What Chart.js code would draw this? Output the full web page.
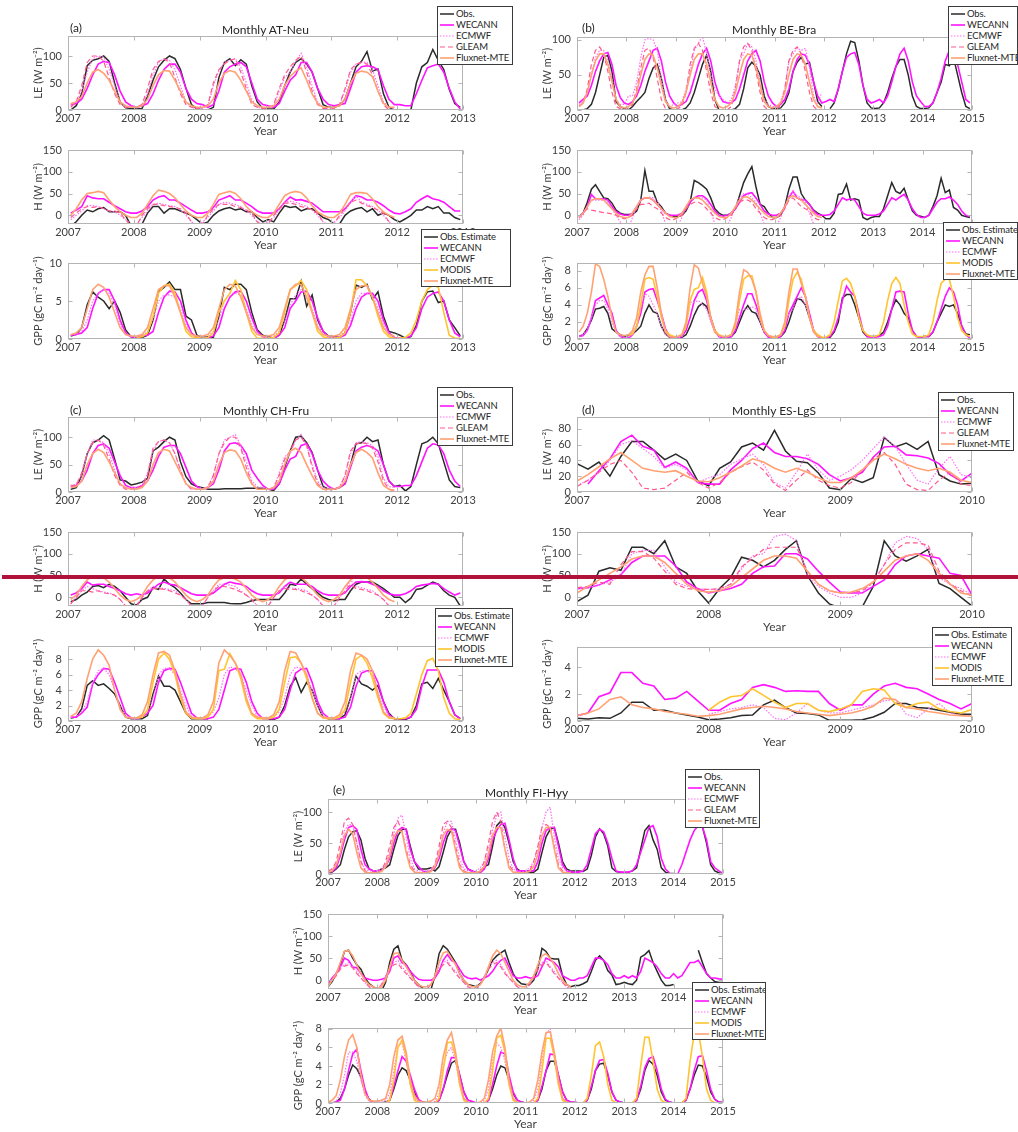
<!DOCTYPE html>
<html>
<head>
<meta charset="utf-8">
<script src="https://cdn.jsdelivr.net/npm/chart.js@4.4.0/dist/chart.umd.min.js"></script>
<style>
  body { margin:0; background:#fff; width:1018px; height:1132px; position:relative; overflow:hidden;
         font-family: Lato, "Liberation Sans", sans-serif; color:#262626; }
  canvas { position:absolute; }
  .ttl { position:absolute; font-size:12px; white-space:nowrap; transform:translateY(-50%); color:#262626; }
  .leg { position:absolute; background:#fff; border:1px solid #3a3a3a; box-sizing:border-box;
         font-size:9.5px; letter-spacing:-0.15px; padding:2px 0 0 2px; overflow:hidden; color:#262626; }
  .leg div { height:10.9px; line-height:10.9px; display:flex; align-items:center; white-space:nowrap; }
  .leg svg { margin-right:2px; flex:none; }
  #redline { position:absolute; left:2px; top:575px; width:1016px; height:4px; background:#b0123a; }
</style>
</head>
<body>
<script>
/* ===== tick labels ===== */
const xTicks0715 = [2007,2008,2009,2010,2011,2012,2013,2014,2015];
const xTicks0713 = [2007,2008,2009,2010,2011,2012,2013];
const xTicks0710 = [2007,2008,2009,2010];
const yTicksLE   = [0,50,100];
const yTicksLEd  = [0,20,40,60,80];
const yTicksH    = [0,50,100,150];
const yTicksGPPa = [0,5,10];
const yTicksGPP  = [0,2,4,6,8];
const yTicksGPPd = [0,2,4];

/* ===== (a) AT-Neu, monthly 2007-2012 ===== */
const aLE_obs = [
  0,8,30,82,92,95,100,90,50,15,4,3,
  2,3,25,55,80,92,100,95,75,40,10,2,
  0,0,5,60,88,95,82,93,85,45,15,3,
  2,2,15,45,70,88,95,85,70,40,10,5,
  5,8,20,50,80,90,108,72,76,30,5,0,
  null,null,0,50,80,88,112,92,75,38,12,5];
const aLE_wecann = [
  10,12,20,40,65,85,90,88,65,35,15,8,
  5,8,12,30,55,75,85,85,70,40,20,12,
  10,5,10,35,70,80,85,88,80,50,20,10,
  8,5,12,35,55,65,88,88,70,40,20,10,
  8,10,12,40,70,80,82,80,75,45,20,10,
  10,8,8,30,55,78,82,85,70,40,15,2];
const aLE_ecmwf = [
  8,15,35,70,95,100,98,75,45,15,5,5,
  5,10,30,65,88,95,92,75,45,15,5,3,
  3,8,45,72,88,92,95,80,50,20,5,3,
  5,8,35,60,70,90,105,80,45,15,5,3,
  5,10,35,70,85,88,88,75,45,15,5,0];
const aLE_gleam = [
  5,15,45,88,100,100,90,60,30,10,5,5,
  5,10,40,75,90,95,88,60,30,10,5,3,
  3,10,50,75,85,92,95,70,40,10,5,3,
  3,10,40,65,80,92,100,70,35,10,3,3,
  3,10,40,75,85,88,85,65,35,10,0,0];
const aLE_mte = [
  12,15,25,50,70,75,68,55,35,15,8,5,
  5,8,20,45,65,73,72,55,35,15,8,5,
  5,8,20,50,68,73,70,55,35,15,8,5,
  5,8,20,45,62,72,78,55,30,12,5,5,
  5,8,20,50,68,72,70,62,35,12,5,5];

const aH_obs = [
  -25,-15,0,12,8,15,18,8,8,8,0,-25,
  -25,-20,5,20,20,5,15,15,10,5,0,-10,
  -20,-15,0,10,15,18,12,15,8,8,-5,-15,
  -10,-15,5,22,18,20,10,15,15,5,-5,-10,
  -20,-20,0,10,15,18,8,15,0,5,0,-10,
  -15,-8,0,12,12,20,15,20,5,5,-5,-10];
const aH_wecann = [
  5,12,20,45,40,38,38,30,22,15,8,5,
  5,10,20,35,42,45,35,35,28,20,12,5,
  5,8,18,35,40,45,35,35,28,20,10,5,
  5,5,15,30,42,35,36,32,28,18,8,8,
  8,8,15,30,45,42,35,35,30,22,12,5,
  3,8,15,30,38,45,38,35,30,20,10,10];
const aH_ecmwf = [
  -10,0,10,22,22,20,15,10,8,0,-10,-20,
  -20,-5,10,25,28,25,22,20,12,0,-15,-25,
  -15,-5,10,25,30,28,25,20,10,0,-15,-20,
  -15,-5,12,30,32,30,25,20,12,0,-15,-25,
  -15,-5,10,30,45,30,25,20,12,0,-15,-25];
const aH_gleam = [
  -5,5,15,20,18,20,15,10,10,5,-10,-25,
  -25,0,15,25,25,22,20,18,15,5,-15,-25,
  -20,0,15,25,25,25,20,18,12,5,-15,-25,
  -20,0,15,28,28,25,20,18,12,5,-15,-25,
  -20,0,15,30,35,28,22,18,12,5,-15,-25];
const aH_mte = [
  0,15,35,50,52,55,52,35,20,8,0,-5,
  -5,5,25,45,58,55,50,40,25,10,0,-5,
  -5,5,25,48,52,55,50,38,20,8,0,-5,
  -5,5,25,45,52,55,52,40,22,8,0,-5,
  -5,5,25,48,52,52,50,38,20,8,0,-5];

const aGPP_obs = [
  0.4,0.6,1.5,4.5,6.2,5.5,5.0,4.0,5.0,3.5,1.2,0.3,
  0.1,0.2,0.5,2.5,6.2,6.8,7.5,6.5,6.5,3.0,2.5,0.5,
  0.2,0.3,0.2,3.0,6.8,6.5,7.2,7.2,6.5,3.5,1.2,0.5,
  0.3,0.1,0.5,2.5,5.3,5.3,7.6,4.3,5.8,2.5,1.0,0.4,
  0.3,0.2,0.8,3.5,7.1,6.8,7.2,5.2,6.2,3.0,1.0,0.8,
  0.5,0.1,0.3,1.8,5.0,6.2,6.3,4.8,5.0,2.5,1.5,0.4];
const aGPP_wecann = [
  0.5,0.6,0.8,1.5,4.0,6.0,6.5,6.5,5.0,2.5,0.8,0.3,
  0.2,0.4,0.5,1.0,3.5,5.5,6.3,6.2,5.0,2.5,0.8,0.2,
  0.1,0.1,0.4,1.5,4.0,5.5,6.2,6.3,5.0,2.8,1.0,0.3,
  0.1,0.1,0.5,1.5,4.0,5.0,6.2,6.3,5.0,2.8,1.0,0.3,
  0.2,0.2,0.5,1.8,4.0,5.5,6.0,6.0,5.0,2.5,0.8,0.2,
  0.1,0.1,0.4,1.5,4.0,5.5,6.0,6.2,5.0,2.5,0.8,0.3];
const aGPP_ecmwf = [
  0.5,0.6,1.0,2.5,5.0,6.0,6.5,6.0,4.5,2.0,0.6,0.3,
  0.3,0.4,1.0,2.5,5.0,5.8,5.8,5.5,4.0,2.0,0.6,0.3,
  0.2,0.3,1.0,2.5,5.0,6.0,6.0,5.8,4.0,2.0,0.6,0.3,
  0.2,0.3,1.0,2.5,4.5,5.8,6.5,5.5,4.0,2.0,0.6,0.3,
  0.2,0.3,1.0,2.5,5.0,6.0,6.0,5.8,4.0,2.0,0.6,0.3];
const aGPP_modis = [
  null,null,null,null,null,null,null,null,null,null,null,null,
  0.2,0.3,0.8,3.0,6.0,7.0,7.2,6.0,3.5,1.0,0.3,0.2,
  0.1,0.2,0.8,3.5,5.0,6.0,7.7,6.5,3.5,1.0,0.1,0.1,
  0.1,0.2,0.8,3.5,6.5,7.0,7.7,6.5,3.5,1.0,0.3,0.1,
  0.1,0.2,0.8,3.5,7.8,7.8,7.0,5.5,3.0,1.0,0.3,0.1,
  0.1,0.2,0.8,2.5,5.0,6.5,7.1,6.8,3.5,0.5,0.1,0.1];
const aGPP_mte = [
  0.6,0.8,1.5,4.0,6.5,7.2,6.8,5.5,3.5,1.5,0.6,0.4,
  0.4,0.6,1.5,4.0,6.5,7.0,7.0,5.5,3.5,1.5,0.6,0.4,
  0.4,0.6,1.5,4.0,6.5,7.2,7.0,5.5,3.5,1.5,0.6,0.4,
  0.4,0.6,1.5,4.0,6.5,7.2,7.2,5.5,3.5,1.5,0.6,0.4,
  0.4,0.6,1.5,4.0,6.5,7.0,7.0,5.5,3.5,1.5,0.6,0.4];

/* ===== (b) BE-Bra, monthly 2007-2014 ===== */
const bLE_obs = [
  0,0,2,8,25,50,75,78,55,12,5,2,
  0,5,12,18,25,45,60,65,45,15,2,0,
  0,0,3,10,25,45,65,78,55,15,0,0,
  0,0,2,8,30,60,68,62,50,20,5,2,
  2,3,10,25,55,68,75,65,68,40,12,5,
  null,2,10,30,55,80,98,96,70,35,10,3,
  2,3,10,25,45,62,72,72,50,20,5,2,
  2,3,10,25,40,65,63,75,50,25,5,2];
const bLE_wecann = [
  10,15,20,35,55,70,80,82,65,35,18,10,
  8,12,20,35,55,70,85,88,70,40,20,10,
  5,8,12,25,45,65,80,88,70,40,22,12,
  10,10,15,30,50,70,80,85,70,40,20,10,
  5,8,15,30,55,72,80,78,65,40,20,10,
  12,15,12,30,55,75,80,82,65,35,15,10,
  12,15,10,20,40,62,80,88,70,40,20,12,
  5,5,10,25,45,70,85,88,65,40,15,10];
const bLE_ecmwf = [
  8,12,25,50,75,85,85,70,45,15,8,8,
  20,20,40,75,100,102,100,85,45,15,5,8,
  10,12,30,55,85,95,105,80,50,30,20,15,
  10,15,35,70,80,95,90,70,40,15,8,5,
  5,12,30,70,80,88,85,88,60,20,10,25];
const bLE_gleam = [
  5,10,30,65,85,90,80,55,25,5,2,0,
  3,8,30,60,85,88,75,45,15,2,0,0,
  2,5,25,65,88,95,85,55,25,5,0,0,
  0,5,30,70,90,95,85,55,25,5,0,0,
  0,8,30,70,85,90,80,55,25,5,0,0];
const bLE_mte = [
  5,10,25,50,70,80,80,65,40,15,5,3,
  5,10,25,50,72,80,78,60,35,12,5,3,
  5,10,25,50,72,80,80,65,40,15,5,3,
  5,10,25,50,72,80,78,60,35,12,5,3,
  5,10,25,50,72,80,78,65,40,15,5,3];

const bH_obs = [
  -3,5,30,60,70,55,40,38,28,12,5,2,
  2,2,10,35,103,55,55,30,20,5,0,-2,
  -3,0,10,30,80,75,68,60,40,15,5,0,
  0,5,15,45,75,95,112,65,25,20,5,-5,
  -5,0,20,60,88,88,50,35,25,12,5,0,
  -8,-8,5,48,50,72,35,38,35,-5,-10,-5,
  -3,-3,15,45,75,55,50,62,35,10,0,-2,
  -5,0,20,45,85,52,58,18,12,0,-3,-5];
const bH_wecann = [
  -5,5,20,48,38,38,38,35,20,8,3,0,
  0,5,20,35,40,40,35,25,15,5,0,0,
  0,5,15,30,40,45,45,38,25,10,0,-2,
  0,5,15,30,45,50,52,40,25,10,3,0,
  0,5,18,40,55,40,35,35,25,10,2,0,
  0,2,10,25,40,35,38,35,20,5,0,0,
  0,3,10,25,40,35,42,48,35,15,2,-5,
  -5,0,15,30,38,38,42,35,25,10,0,-2];
const bH_ecmwf = [
  -10,0,20,35,35,35,35,30,15,0,-15,-25,
  -30,-5,20,35,40,42,40,35,10,-20,-30,-30,
  -25,-5,20,35,40,40,40,35,10,-20,-30,-30,
  -25,-5,20,40,50,50,40,30,5,-20,-30,-30,
  -25,-5,20,45,55,45,40,30,5,-20,-30,-30];
const bH_gleam = [
  -5,5,15,12,10,8,6,5,3,0,-5,-8,
  -5,0,15,25,25,28,20,15,5,-5,-10,-10,
  -5,0,15,25,30,30,25,15,5,-5,-10,-10,
  -5,0,15,30,35,35,30,15,5,-5,-10,-10,
  -5,0,15,35,40,30,20,15,10,-5,-10,-10];
const bH_mte = [
  -5,5,20,35,38,38,35,25,15,5,-3,-5,
  -5,5,20,35,40,40,35,25,15,5,-3,-5,
  -5,5,20,35,40,40,35,25,15,5,-3,-5,
  -5,5,20,35,42,42,35,25,15,5,-3,-5,
  -5,5,20,40,45,40,35,25,15,5,-3,-5];

const bGPP_obs = [
  0.3,0.5,1.2,2.2,3.5,3.6,3.8,3.0,1.2,0.8,0.5,0.3,
  0.4,0.6,1.0,1.5,3.0,4.0,3.2,3.0,1.5,0.6,0.2,0.1,
  0.1,0.2,0.5,1.5,2.8,3.8,4.2,3.8,2.5,1.0,0.3,0.2,
  0.2,0.3,0.8,2.0,3.2,3.9,3.2,3.0,2.0,0.8,0.3,0.2,
  0.2,0.3,0.8,2.0,3.5,4.7,4.6,4.0,2.5,1.0,0.3,0.1,
  0.1,0.2,0.8,2.0,4.8,5.2,5.2,4.0,2.5,0.8,0.3,0.3,
  0.3,0.4,0.8,2.0,3.5,4.6,4.0,3.0,2.5,1.0,0.3,0.2,
  0.3,0.3,0.8,2.0,3.0,4.0,3.8,4.0,3.0,1.5,0.6,0.5];
const bGPP_wecann = [
  0.3,0.4,1.0,2.5,4.5,4.8,5.1,4.0,3.0,1.0,0.3,0.1,
  0.1,0.5,1.5,3.0,5.5,5.8,5.9,4.5,3.0,1.2,0.3,0.1,
  0.1,0.3,1.0,2.5,4.5,5.5,5.8,4.5,2.5,1.0,0.3,0.2,
  0.2,0.3,1.0,2.5,4.0,5.3,5.3,4.0,2.5,0.8,0.2,0.1,
  0.1,0.3,1.0,3.0,4.0,5.0,6.0,5.0,3.0,1.0,0.3,0.1,
  0.1,0.3,1.0,2.5,4.5,6.2,5.5,5.0,3.0,1.0,0.3,0.2,
  0.2,0.3,0.5,1.5,3.5,5.5,5.6,5.5,3.0,1.0,0.3,0.2,
  0.3,0.3,0.8,2.0,3.5,5.0,6.0,5.5,4.0,1.5,0.5,0.1];
const bGPP_ecmwf = [
  0.3,0.5,1.0,2.5,4.0,4.5,4.5,3.5,2.0,0.8,0.3,0.2,
  0.2,0.5,1.5,3.5,5.3,5.0,4.0,3.0,1.5,0.5,0.2,0.1,
  0.1,0.3,1.5,4.3,4.3,4.5,4.0,3.5,2.0,0.8,0.3,0.2,
  0.2,0.4,1.5,3.5,3.5,3.5,3.8,3.5,2.0,0.8,0.3,0.2,
  0.2,0.4,1.5,3.0,3.5,4.5,5.0,4.0,2.5,0.8,0.3,0.2];
const bGPP_modis = [
  null,null,null,null,null,null,null,null,null,null,null,null,
  0.4,0.6,1.5,4.0,7.0,7.2,7.0,5.0,2.5,1.0,0.5,0.3,
  0.3,0.5,1.5,4.5,5.8,6.0,7.2,5.5,2.5,1.0,0.5,0.3,
  0.3,0.5,1.5,4.5,7.0,7.4,7.4,5.5,2.5,1.0,0.4,0.2,
  0.2,0.5,1.5,4.5,7.0,7.8,7.0,5.0,2.5,1.0,0.5,0.2,
  0.2,0.5,2.0,4.5,6.8,7.1,6.5,5.0,2.5,1.0,0.5,0.3,
  0.3,0.5,2.0,4.5,6.5,7.2,6.5,4.0,2.0,0.6,0.3,0.3,
  0.3,0.5,2.0,4.5,6.5,7.0,7.0,5.0,2.5,1.0,0.5,0.3];
const bGPP_mte = [
  0.8,1.5,3.0,5.5,8.8,8.5,7.0,5.0,2.5,0.8,0.5,0.4,
  0.5,1.0,2.5,5.5,7.5,8.5,8.5,6.0,3.0,0.8,0.3,0.2,
  0.3,0.5,2.0,6.0,8.7,8.3,6.5,5.0,2.5,0.8,0.4,0.3,
  0.3,0.5,2.0,5.5,8.1,7.8,7.0,5.5,3.0,1.0,0.4,0.3,
  0.3,0.5,2.0,5.5,8.2,8.2,6.5,5.0,2.5,0.8,0.3,0.2];

/* ===== (c) CH-Fru, monthly 2007-2012 ===== */
const cLE_obs = [
  5,8,30,70,90,95,103,95,60,22,20,13,
  15,18,25,75,82,92,100,95,55,28,15,10,
  8,5,5,5,6,6,6,6,7,7,7,7,
  5,3,15,45,75,100,102,90,72,40,10,5,
  5,8,15,50,88,90,100,92,95,50,20,10,
  12,2,10,50,88,92,100,88,55,22,10,8];
const cLE_wecann = [
  10,12,20,40,70,85,88,80,55,30,12,8,
  8,12,20,40,65,82,85,85,70,45,20,10,
  5,8,15,40,75,88,90,85,70,40,25,12,
  5,5,15,40,60,65,85,88,70,40,20,10,
  5,8,15,45,75,82,85,82,75,50,20,10,
  10,12,12,30,55,80,88,86,70,40,20,10];
const cLE_ecmwf = [
  10,15,30,70,95,95,90,70,40,15,5,8,
  8,12,35,75,92,95,90,70,40,15,5,5,
  5,10,30,70,95,100,105,85,55,20,10,8,
  5,8,35,65,70,95,105,85,50,20,8,5,
  5,10,30,70,90,92,90,85,65,25,10,8];
const cLE_gleam = [
  12,12,35,70,90,95,85,60,30,12,5,5,
  8,10,30,80,92,95,90,70,40,15,5,5,
  5,8,30,70,90,100,100,80,45,15,5,5,
  5,8,30,60,75,95,100,85,45,15,5,3,
  5,8,30,75,88,90,88,80,55,20,5,2];
const cLE_mte = [
  8,10,20,50,70,78,72,55,35,15,8,5,
  5,8,20,50,72,78,75,55,35,15,8,5,
  5,8,20,50,72,77,75,60,35,15,5,5,
  5,8,20,50,75,80,72,50,30,12,5,5,
  5,8,20,50,72,78,72,62,35,12,5,3];

const cH_obs = [
  -10,-5,5,12,25,27,22,30,25,15,0,-15,
  -18,-5,0,22,18,42,30,22,10,-5,-15,-15,
  -15,-12,-12,-12,-12,-14,-15,-15,-12,-8,-5,-5,
  -5,-5,-5,10,30,28,42,30,20,10,0,-5,
  -8,-5,-5,15,30,35,35,35,28,20,10,0,
  0,-12,-2,18,20,28,35,30,15,5,0,-20];
const cH_wecann = [
  5,10,20,35,28,30,30,25,20,15,8,5,
  8,5,10,20,30,35,30,28,22,15,8,5,
  5,5,10,20,30,35,32,30,25,15,8,5,
  5,5,10,25,35,30,30,30,25,15,8,5,
  5,5,10,25,35,36,35,30,25,15,8,5,
  5,8,15,25,28,30,32,30,20,12,5,10];
const cH_ecmwf = [
  -15,0,15,25,20,15,12,10,5,-5,-20,-30,
  -20,0,15,25,22,20,18,15,5,-5,-20,-30,
  -20,0,15,30,30,28,25,15,5,-5,-20,-30,
  -20,0,15,25,22,20,18,15,5,-5,-20,-30,
  -20,0,15,40,25,22,18,15,5,-5,-20,-30];
const cH_gleam = [
  -15,0,15,15,12,15,10,8,5,-5,-20,-30,
  -20,0,15,20,20,18,15,10,5,-5,-20,-30,
  -20,0,15,25,25,22,18,12,5,-5,-20,-30,
  -20,0,15,20,18,18,15,10,5,-5,-20,-30,
  -20,0,15,30,20,18,15,10,5,-5,-20,-30];
const cH_mte = [
  -5,5,25,40,48,48,45,35,20,5,-5,-10,
  -5,5,25,40,48,48,45,35,20,5,-5,-10,
  -5,5,25,40,45,45,42,35,20,5,-5,-10,
  -5,5,25,40,48,48,45,35,20,5,-5,-10,
  -5,5,25,40,48,48,45,35,20,5,-5,-10];

const cGPP_obs = [
  0.4,0.5,1.6,4.6,5.2,4.6,4.8,4.2,3.5,2.0,0.5,0.3,
  0.3,0.3,0.7,3.5,5.8,4.5,4.5,4.0,2.5,1.0,0.3,0.3,
  0.3,0.3,null,null,null,null,null,null,null,null,null,null,
  0.2,0.2,0.5,2.0,4.5,5.6,3.7,5.0,4.0,2.0,0.5,0.3,
  0.3,0.3,0.8,3.0,5.8,4.8,4.5,4.0,4.6,2.5,1.0,0.3,
  0.2,0.2,0.5,2.0,4.8,5.0,4.2,5.5,4.0,2.5,0.8,0.3];
const cGPP_wecann = [
  0.5,0.5,1.0,1.8,4.8,6.0,6.8,6.7,5.0,3.0,1.0,0.4,
  0.3,0.5,1.0,2.0,5.0,6.5,6.8,6.7,5.0,3.0,1.0,0.4,
  0.3,0.3,0.5,1.5,4.0,6.5,6.8,6.7,5.0,2.5,1.0,0.3,
  0.3,0.3,0.5,1.5,4.0,6.2,6.7,6.8,5.0,2.5,1.0,0.4,
  0.3,0.3,0.5,1.8,4.5,6.2,6.5,6.5,5.0,2.5,0.8,0.3,
  0.3,0.3,0.5,1.5,4.5,6.6,6.6,6.6,5.0,2.5,0.8,0.3];
const cGPP_ecmwf = [
  0.5,0.6,1.2,2.5,5.0,6.5,6.8,6.0,4.0,2.0,0.6,0.3,
  0.3,0.5,1.2,3.0,6.0,6.8,6.8,6.0,4.0,2.0,0.6,0.3,
  0.3,0.5,1.2,3.0,6.0,7.0,6.8,6.0,4.0,2.0,0.6,0.3,
  0.3,0.5,1.2,3.0,6.0,7.0,6.8,6.0,4.0,2.0,0.6,0.3,
  0.3,0.5,1.2,3.0,6.0,6.5,6.5,6.0,4.0,2.0,0.6,0.3];
const cGPP_modis = [
  null,null,null,null,null,null,null,null,null,null,null,null,
  0.4,0.5,1.5,5.0,8.0,8.8,8.0,6.0,3.0,1.0,0.4,0.3,
  0.3,0.5,1.5,6.5,6.7,8.7,7.5,5.5,2.5,0.8,0.3,0.3,
  0.3,0.5,1.5,5.0,8.2,8.3,7.5,5.5,3.0,1.0,0.4,0.3,
  0.3,0.5,1.5,5.0,8.0,8.5,7.5,5.5,3.0,1.0,0.4,0.3,
  0.3,0.4,1.0,3.5,6.0,7.8,8.1,6.5,3.0,1.0,0.3,0.2];
const cGPP_mte = [
  0.6,1.0,2.5,5.5,8.0,9.2,8.5,7.2,4.0,1.5,0.5,0.4,
  0.4,0.8,2.5,6.0,8.8,9.0,8.5,6.5,3.5,1.2,0.5,0.4,
  0.4,0.8,2.5,7.5,9.2,8.5,7.5,6.0,3.0,1.0,0.5,0.4,
  0.4,0.8,2.5,6.5,9.0,8.8,7.5,6.0,3.0,1.0,0.5,0.4,
  0.4,0.8,2.5,6.5,8.8,8.5,8.0,6.5,3.5,1.2,0.5,0.4];

/* ===== (d) ES-LgS, monthly Jan 2007 - Jan 2010 ===== */
const dLE_obs    = [36,29,38,20,45,64,64,53,41,48,40,14, 8,30,38,57,62,53,78,52,39,37,24,5, 3,17,12,18,69,57,62,54,64,22,14,10, 11];
const dLE_wecann = [null,10,27,42,64,72,58,53,31,38,30,12, 10,10,28,40,55,62,50,45,45,42,35,22, 14,18,25,44,57,58,47,46,43,36,22,14, 24];
const dLE_ecmwf  = [8,15,25,40,60,65,55,45,30,35,28,12, 18,22,35,42,48,35,12,5,25,48,28,15, 20,28,40,55,70,58,35,15,10,30,45,22, 18];
const dLE_gleam  = [7,15,25,35,40,25,5,3,5,15,25,12, 5,12,25,32,38,28,10,2,15,28,15,8, 5,12,28,42,50,35,10,3,2,15,25,10, 8];
const dLE_mte    = [14,22,32,42,50,40,30,27,25,27,20,14, 13,18,25,33,42,38,30,25,30,25,18,12, 12,18,28,40,48,42,35,30,27,30,25,15, 12];

const dH_obs    = [-10,5,60,68,62,115,115,100,130,70,55,15, -13,20,45,92,85,70,85,110,130,50,10,-15, -25,-35,-22,25,130,95,83,95,110,32,20,0, -20];
const dH_wecann = [20,22,28,40,52,80,95,95,95,72,35,20, 10,15,20,30,55,70,72,100,100,88,60,35, 12,10,10,25,40,75,95,100,95,90,55,50, 5];
const dH_ecmwf  = [20,22,28,35,50,100,108,108,70,35,25,20, 18,18,30,65,95,100,140,145,130,50,25,10, 0,0,10,35,75,125,140,135,110,45,30,20, 5];
const dH_gleam  = [22,25,35,30,75,105,105,90,60,30,20,18, 18,20,30,70,90,110,115,115,115,60,30,15, 10,10,15,35,75,110,125,125,120,60,30,15, 3];
const dH_mte    = [10,25,40,55,70,88,95,95,80,55,30,15, 12,15,25,45,65,85,95,95,90,60,30,15, 10,12,20,35,60,85,95,100,85,55,30,10, 5];

const dGPP_obs    = [0.2,0.15,0.25,0.2,0.6,1.4,1.4,0.8,0.8,0.6,0.45,0.3, 0.1,0.15,0.25,0.4,0.45,1.2,1.55,1.0,0.6,0.55,0.45,0.05, 0.05,0.05,0.1,0.3,0.65,1.3,1.3,1.0,0.95,0.8,0.65,0.5, 0.5];
const dGPP_wecann = [0.4,0.6,1.8,2.1,3.6,3.6,2.8,2.6,1.6,1.7,2.2,1.5, 0.8,0.8,1.3,1.6,2.5,2.7,2.5,2.2,2.25,2.2,2.2,1.3, 0.8,1.2,1.2,2.0,2.6,2.8,2.5,2.4,2.0,1.6,1.3,0.9, 1.3];
const dGPP_ecmwf  = [null,null,null,null,null,null,null,null,null,null,null,null, 0.5,0.7,0.9,1.0,1.2,1.0,0.2,0.1,0.6,1.3,0.8,0.6, 0.6,0.8,1.0,1.2,1.5,1.6,0.5,0.25,0.9,1.3,0.6,0.4, 0.4];
const dGPP_modis  = [null,null,null,null,null,null,null,null,null,null,null,null, 0.8,1.4,1.8,1.9,2.4,1.9,1.4,1.0,1.3,1.3,0.8,0.7, 0.9,1.2,2.2,2.4,2.3,1.3,1.0,1.3,1.4,0.9,0.7,0.6, 0.85];
const dGPP_mte    = [0.4,0.6,0.9,1.6,1.8,1.2,1.0,0.9,0.7,0.6,0.5,0.35, 0.4,0.5,0.7,0.9,1.0,1.1,1.0,0.9,0.7,0.6,0.5,0.4, 0.5,0.6,0.8,1.1,1.7,1.6,1.0,0.9,0.7,0.6,0.45,0.4, 0.35];

/* ===== (e) FI-Hyy, monthly Jan 2007 - Jan 2015 ===== */
const eLE_obs = [
  2,3,8,15,40,60,68,70,55,25,8,5,
  5,8,10,15,40,62,72,72,45,20,8,8,
  8,10,5,12,35,60,72,72,50,20,8,5,
  2,3,12,15,45,78,85,75,50,20,8,4,
  3,3,3,8,35,60,72,75,50,20,8,5,
  5,5,4,8,30,60,73,65,45,10,4,3,
  2,3,5,10,40,70,78,55,40,10,3,1,
  1,null,null,null,null,null,null,76,50,15,5,2, 0];
const eLE_wecann = [
  3,4,10,30,55,75,78,72,40,15,8,5,
  5,5,12,25,50,70,75,72,40,20,12,5,
  3,5,10,25,50,68,73,70,45,20,8,5,
  2,2,8,25,55,70,80,82,55,25,5,5,
  5,5,5,20,50,70,75,75,45,15,5,3,
  3,3,5,15,40,65,72,68,50,25,5,3,
  3,3,5,15,35,55,75,78,60,25,8,2,
  null,0,15,35,55,70,78,76,55,20,10,5, 1];
const eLE_ecmwf = [
  5,8,15,35,70,80,78,50,20,8,5,5,
  5,8,15,35,65,90,95,60,25,8,5,5,
  5,8,15,35,65,85,85,55,25,8,5,3,
  5,10,20,40,70,95,100,60,25,8,5,3,
  5,10,20,40,75,100,108,60,25,10,5,5];
const eLE_gleam = [
  5,8,20,50,85,90,80,50,20,5,2,2,
  3,5,20,45,75,85,70,40,15,5,2,2,
  3,5,15,45,80,85,75,45,15,5,2,2,
  2,5,20,50,85,100,85,40,15,5,2,2,
  2,5,20,45,75,80,75,45,15,5,2,2];
const eLE_mte = [
  3,5,15,35,62,72,65,35,10,3,2,2,
  2,4,12,30,60,70,68,35,10,3,2,2,
  2,4,12,32,62,72,70,38,10,3,2,2,
  2,4,12,32,62,75,75,40,10,3,2,2,
  2,4,12,32,62,75,75,40,10,3,2,2];

const eH_obs = [
  -15,-3,15,35,65,68,50,35,25,5,-8,-15,
  -20,-25,-5,40,70,78,45,35,20,0,-10,-18,
  -20,-22,10,60,78,70,55,40,15,0,-10,-12,
  -15,-8,5,25,45,55,62,68,40,15,0,-8,
  -10,-10,0,25,72,65,50,48,48,10,-10,-15,
  -12,-12,-8,-3,20,45,55,45,22,12,-10,-8,
  -5,-8,-10,0,52,58,67,40,20,0,-12,-12,
  -10,null,null,null,null,null,68,40,15,5,-3,-5, -5];
const eH_wecann = [
  -10,5,15,30,50,45,30,28,15,5,2,0,
  0,2,5,20,50,55,40,35,20,10,2,0,
  0,0,5,20,45,58,45,40,25,10,5,3,
  5,0,5,10,20,35,45,50,30,10,5,5,
  8,5,5,10,30,50,45,40,30,10,5,0,
  0,5,5,10,30,50,50,45,35,15,5,5,
  10,5,10,5,20,50,45,40,30,15,5,5,
  15,5,10,25,40,40,45,30,15,5,5,3, 2];
const eH_ecmwf = [
  -10,0,15,30,35,40,30,20,5,-5,-15,-20,
  -20,-10,10,30,40,45,30,20,5,-5,-15,-20,
  -20,-10,10,30,40,45,30,20,5,-5,-15,-20,
  -20,-10,10,30,40,45,35,20,5,-5,-15,-20,
  -20,-10,10,30,40,45,30,20,5,-5,-15,-25];
const eH_gleam = [
  -10,0,10,25,32,35,28,15,5,-5,-15,-20,
  -20,-10,5,25,35,38,25,15,5,-5,-15,-20,
  -20,-10,5,25,35,40,28,15,5,-5,-15,-20,
  -20,-10,5,25,35,40,30,15,5,-5,-15,-20,
  -20,-10,5,25,35,40,28,15,5,-5,-15,-20];
const eH_mte = [
  -15,0,15,40,65,68,55,35,15,0,-10,-15,
  -20,-15,0,30,60,62,45,30,15,0,-10,-15,
  -15,-10,10,40,62,65,50,35,15,0,-10,-15,
  -15,-10,5,30,55,68,60,40,20,0,-10,-15,
  -15,-5,10,35,55,60,50,35,15,0,-10,-15];

const eGPP_obs = [
  0,0,0.1,0.5,1.5,3.0,4.1,3.7,2.8,1.2,0.4,0.1,
  0,0,0.1,0.3,1.5,3.0,3.8,3.5,2.5,1.2,0.3,0.1,
  0,0,0,0.3,1.5,3.0,4.3,4.6,3.0,1.2,0.3,0.1,
  0,0,0,0.3,1.5,3.0,4.0,3.8,2.5,1.0,0.3,0.1,
  0,0,0,0.3,1.5,3.5,4.5,4.5,3.0,1.2,0.3,0.1,
  0,0,0,0.3,1.5,3.5,4.2,4.3,3.0,1.2,0.3,0.1,
  0,0,0,0.3,1.5,3.5,4.6,4.2,3.0,1.2,0.3,0.1,
  0,0,0,0.3,1.5,3.0,4.1,4.0,2.8,1.2,0.4,0.1, 0];
const eGPP_wecann = [
  0,0,0.1,0.3,1.5,3.5,5.3,5.8,3.5,1.5,0.3,0,
  0,0,0,0.3,1.8,3.5,5.0,4.5,3.0,1.5,0.4,0.1,
  0,0,0,0.3,1.5,3.5,4.9,4.9,3.0,1.2,0.3,0.2,
  0,0,0,0.3,2.0,4.0,5.5,5.3,3.0,1.2,0.3,0.1,
  0,0,0,0.3,1.8,3.5,5.3,5.2,3.0,1.2,0.3,0.1,
  0.1,0,0,0.3,1.8,3.5,4.6,4.7,3.2,1.2,0.3,0.1,
  0,0,0,0.3,1.8,3.8,4.8,5.0,3.5,1.5,0.4,0.1,
  0,0,0,0.3,1.5,3.5,5.0,5.1,3.5,1.5,0.4,0.1, 0.1];
const eGPP_ecmwf = [
  0,0,0.2,1.0,3.0,5.5,5.5,4.5,2.5,0.8,0.2,0,
  0.2,0.2,0.3,1.0,3.5,6.2,6.5,4.5,2.0,0.5,0.1,0,
  0,0,0.2,1.0,4.0,5.5,6.0,4.5,2.0,0.5,0.2,0,
  0,0,0.3,1.5,4.5,6.5,6.0,4.5,2.0,0.5,0.1,0,
  0,0,0.3,1.5,4.5,7.5,8.0,5.0,2.0,0.5,0.1,0];
const eGPP_modis = [
  null,null,null,null,null,null,null,null,null,null,null,null,
  0,0,0,0.3,2.5,6.0,6.8,5.0,2.0,0.3,0,0,
  0,0,0,0.5,3.5,6.5,6.6,5.0,2.0,0.3,0,0,
  0,0,0,0.5,3.5,7.0,7.3,5.5,2.0,0.3,0,0,
  0,0,0,0.5,3.5,7.0,7.0,5.0,2.0,0.3,0,0,
  0,0,0,0.5,3.0,6.2,6.6,5.0,2.0,0.3,0,0,
  0,0,0,0.5,4.0,7.1,7.1,4.5,1.5,0.3,0,0,
  0,0,0,0.5,4.5,7.5,7.8,5.0,1.5,0.3,0,0, 0];
const eGPP_mte = [
  0.1,0.3,0.8,2.5,5.0,6.8,7.4,6.0,3.0,1.0,0.3,0.2,
  0.2,0.3,0.5,2.0,5.0,6.8,7.2,5.5,2.5,0.8,0.2,0.1,
  0.1,0.2,0.5,2.0,5.0,6.8,7.6,5.5,2.5,0.5,0.1,0,
  0,0.1,0.5,2.5,5.5,7.2,8.1,6.0,2.5,0.5,0.1,0,
  0,0.1,0.5,2.5,5.5,7.6,7.7,5.5,2.5,0.5,0.1,0];

/* ===== styles ===== */
const FONT = "Lato, 'Liberation Sans', sans-serif";
const TXT = "#404040";
const AXC = "#b4b4b4";
const STYLE = {
  obs:    { c:"#2a2a2a", w:1.5, d:[] },
  wecann: { c:"#ff14ff", w:1.6, d:[] },
  ecmwf:  { c:"#ff6ef5", w:1.2, d:[1.5,1.5] },
  gleam:  { c:"#ff5a8c", w:1.2, d:[5,3] },
  mte:    { c:"#ffa173", w:1.6, d:[] },
  modis:  { c:"#ffc42e", w:1.6, d:[] }
};
const LE_TITLE  = "LE (W m\u207B\u00B2)";
const H_TITLE   = "H (W m\u207B\u00B2)";
const GPP_TITLE = "GPP (gC m\u207B\u00B2 day\u207B\u00B9)";

// canvas margins around each plot box
const PADL = 38, PADR = 16, PADT = 8, PADB = 32;

// inward ticks and grey axes box, MATLAB style
Chart.register({
  id: "box",
  afterDraw(chart) {
    const { ctx, chartArea: a, scales: { x, y } } = chart;
    const L = Math.round(a.left) + 0.5, R = Math.round(a.right) - 0.5;
    const T = Math.round(a.top) + 0.5,  B = Math.round(a.bottom) - 0.5;
    ctx.save();
    ctx.strokeStyle = AXC; ctx.lineWidth = 1;
    ctx.strokeRect(L, T, R - L, B - T);
    ctx.beginPath();
    x.ticks.forEach(t => {
      const p = Math.round(x.getPixelForValue(t.value)) + 0.5;
      ctx.moveTo(p, B); ctx.lineTo(p, B - 4);
      ctx.moveTo(p, T); ctx.lineTo(p, T + 4);
    });
    y.ticks.forEach(t => {
      const p = Math.round(y.getPixelForValue(t.value)) + 0.5;
      ctx.moveTo(L, p); ctx.lineTo(L + 4, p);
      ctx.moveTo(R, p); ctx.lineTo(R - 4, p);
    });
    ctx.stroke();
    ctx.restore();
  }
});

function plot(sp) {
  const cv = document.createElement("canvas");
  const W = sp.r - sp.l + PADL + PADR, H = sp.b - sp.t + PADT + PADB;
  cv.width = W; cv.height = H;
  cv.style.left = (sp.l - PADL) + "px";
  cv.style.top  = (sp.t - PADT) + "px";
  cv.style.width = W + "px"; cv.style.height = H + "px";
  document.body.appendChild(cv);

  const datasets = sp.series.map(([key, vals], k) => ({
    label: key,
    data: vals.map((v, i) => ({ x: sp.x0 + (i + sp.off) / 12, y: v })),
    borderColor: STYLE[key].c,
    borderWidth: STYLE[key].w,
    borderDash: STYLE[key].d,
    pointRadius: 0, fill: false, tension: 0, spanGaps: false,
    order: -k   // later series on top, like MATLAB
  }));

  new Chart(cv, {
    type: "line",
    data: { datasets },
    options: {
      responsive: false, animation: false, devicePixelRatio: 1,
      layout: { padding: { left: 0, top: PADT, right: PADR, bottom: 0 } },
      plugins: { legend: { display: false }, tooltip: { enabled: false } },
      scales: {
        x: {
          type: "linear", min: sp.x0, max: sp.x1,
          grid: { display: false, drawTicks: false }, border: { display: false },
          afterBuildTicks: s => { s.ticks = sp.xTicks.map(v => ({ value: v })); },
          afterFit: s => { s.height = PADB; s.paddingLeft = 0; s.paddingRight = 0; },
          ticks: { padding: 2, color: TXT, font: { family: FONT, size: 11 }, maxRotation: 0,
                   autoSkip: false, callback: v => String(v) },
          title: { display: true, text: "Year", color: TXT, font: { family: FONT, size: 12 },
                   padding: { top: 0, bottom: 4 } }
        },
        y: {
          min: sp.yMin, max: sp.yMax,
          grid: { display: false, drawTicks: false }, border: { display: false },
          afterBuildTicks: s => { s.ticks = sp.yTicks.map(v => ({ value: v })); },
          afterFit: s => { s.width = PADL; s.paddingTop = 0; s.paddingBottom = 0; },
          ticks: { padding: 6, color: TXT, font: { family: FONT, size: 11 }, callback: v => String(v) },
          title: { display: true, text: sp.yTitle, color: TXT, font: { family: FONT, size: 11 },
                   padding: { top: 2, bottom: 0 } }
        }
      }
    }
  });
}

function legend(x, y, w, h, rows) {
  const d = document.createElement("div");
  d.className = "leg";
  Object.assign(d.style, { left: x + "px", top: y + "px", width: w + "px", height: h + "px" });
  d.innerHTML = rows.map(([key, label]) => {
    const s = STYLE[key];
    return `<div><svg width="14" height="4"><line x1="0" y1="2" x2="14" y2="2" stroke="${s.c}"
      stroke-width="${s.w}" stroke-dasharray="${s.d.length ? s.d.join(" ") : "none"}"/></svg>${label}</div>`;
  }).join("");
  document.body.appendChild(d);
}

function text(x, y, str) {
  const d = document.createElement("div");
  d.className = "ttl";
  d.style.left = x + "px"; d.style.top = y + "px";
  d.textContent = str;
  document.body.appendChild(d);
}

const LE_ROWS  = [["obs","Obs."],["wecann","WECANN"],["ecmwf","ECMWF"],["gleam","GLEAM"],["mte","Fluxnet-MTE"]];
const GPP_ROWS = [["obs","Obs. Estimate"],["wecann","WECANN"],["ecmwf","ECMWF"],["modis","MODIS"],["mte","Fluxnet-MTE"]];

const subplots = [
  // (a)
  { l:68,  t:36,  r:463, b:110, x0:2007, x1:2013, off:0.5, xTicks:xTicks0713, yMin:0,   yMax:137, yTicks:yTicksLE,   yTitle:LE_TITLE,
    series:[["obs",aLE_obs],["wecann",aLE_wecann],["ecmwf",aLE_ecmwf],["gleam",aLE_gleam],["mte",aLE_mte]] },
  { l:68,  t:150, r:463, b:224, x0:2007, x1:2013, off:0.5, xTicks:xTicks0713, yMin:-20, yMax:150, yTicks:yTicksH,    yTitle:H_TITLE,
    series:[["obs",aH_obs],["wecann",aH_wecann],["ecmwf",aH_ecmwf],["gleam",aH_gleam],["mte",aH_mte]] },
  { l:68,  t:263, r:463, b:339, x0:2007, x1:2013, off:0.5, xTicks:xTicks0713, yMin:0,   yMax:10,  yTicks:yTicksGPPa, yTitle:GPP_TITLE,
    series:[["obs",aGPP_obs],["wecann",aGPP_wecann],["ecmwf",aGPP_ecmwf],["modis",aGPP_modis],["mte",aGPP_mte]] },
  // (b)
  { l:577, t:37,  r:972, b:110, x0:2007, x1:2015, off:0.5, xTicks:xTicks0715, yMin:0,   yMax:104, yTicks:yTicksLE,   yTitle:LE_TITLE,
    series:[["obs",bLE_obs],["wecann",bLE_wecann],["ecmwf",bLE_ecmwf],["gleam",bLE_gleam],["mte",bLE_mte]] },
  { l:577, t:150, r:972, b:224, x0:2007, x1:2015, off:0.5, xTicks:xTicks0715, yMin:-20, yMax:150, yTicks:yTicksH,    yTitle:H_TITLE,
    series:[["obs",bH_obs],["wecann",bH_wecann],["ecmwf",bH_ecmwf],["gleam",bH_gleam],["mte",bH_mte]] },
  { l:577, t:263, r:972, b:339, x0:2007, x1:2015, off:0.5, xTicks:xTicks0715, yMin:0,   yMax:8.9, yTicks:yTicksGPP,  yTitle:GPP_TITLE,
    series:[["obs",bGPP_obs],["wecann",bGPP_wecann],["ecmwf",bGPP_ecmwf],["modis",bGPP_modis],["mte",bGPP_mte]] },
  // (c)
  { l:68,  t:417, r:463, b:492, x0:2007, x1:2013, off:0.5, xTicks:xTicks0713, yMin:0,   yMax:137, yTicks:yTicksLE,   yTitle:LE_TITLE,
    series:[["obs",cLE_obs],["wecann",cLE_wecann],["ecmwf",cLE_ecmwf],["gleam",cLE_gleam],["mte",cLE_mte]] },
  { l:68,  t:532, r:463, b:606, x0:2007, x1:2013, off:0.5, xTicks:xTicks0713, yMin:-20, yMax:150, yTicks:yTicksH,    yTitle:H_TITLE,
    series:[["obs",cH_obs],["wecann",cH_wecann],["ecmwf",cH_ecmwf],["gleam",cH_gleam],["mte",cH_mte]] },
  { l:68,  t:646, r:463, b:721, x0:2007, x1:2013, off:0.5, xTicks:xTicks0713, yMin:0,   yMax:9.7, yTicks:yTicksGPP,  yTitle:GPP_TITLE,
    series:[["obs",cGPP_obs],["wecann",cGPP_wecann],["ecmwf",cGPP_ecmwf],["modis",cGPP_modis],["mte",cGPP_mte]] },
  // (d)
  { l:577, t:417, r:972, b:492, x0:2007, x1:2010, off:0, xTicks:xTicks0710, yMin:0,   yMax:95,  yTicks:yTicksLEd,  yTitle:LE_TITLE,
    series:[["obs",dLE_obs],["wecann",dLE_wecann],["ecmwf",dLE_ecmwf],["gleam",dLE_gleam],["mte",dLE_mte]] },
  { l:577, t:532, r:972, b:606, x0:2007, x1:2010, off:0, xTicks:xTicks0710, yMin:-20, yMax:150, yTicks:yTicksH,    yTitle:H_TITLE,
    series:[["obs",dH_obs],["wecann",dH_wecann],["ecmwf",dH_ecmwf],["gleam",dH_gleam],["mte",dH_mte]] },
  { l:577, t:647, r:972, b:721, x0:2007, x1:2010, off:0, xTicks:xTicks0710, yMin:0,   yMax:5.5, yTicks:yTicksGPPd, yTitle:GPP_TITLE,
    series:[["obs",dGPP_obs],["wecann",dGPP_wecann],["ecmwf",dGPP_ecmwf],["modis",dGPP_modis],["mte",dGPP_mte]] },
  // (e)
  { l:328, t:799, r:723, b:874, x0:2007, x1:2015, off:0, xTicks:xTicks0715, yMin:0,   yMax:121, yTicks:yTicksLE,   yTitle:LE_TITLE,
    series:[["obs",eLE_obs],["wecann",eLE_wecann],["ecmwf",eLE_ecmwf],["gleam",eLE_gleam],["mte",eLE_mte]] },
  { l:328, t:914, r:723, b:989, x0:2007, x1:2015, off:0, xTicks:xTicks0715, yMin:-20, yMax:150, yTicks:yTicksH,    yTitle:H_TITLE,
    series:[["obs",eH_obs],["wecann",eH_wecann],["ecmwf",eH_ecmwf],["gleam",eH_gleam],["mte",eH_mte]] },
  { l:328, t:1028, r:723, b:1103, x0:2007, x1:2015, off:0, xTicks:xTicks0715, yMin:0,  yMax:8.1, yTicks:yTicksGPP,  yTitle:GPP_TITLE,
    series:[["obs",eGPP_obs],["wecann",eGPP_wecann],["ecmwf",eGPP_ecmwf],["modis",eGPP_modis],["mte",eGPP_mte]] }
];
subplots.forEach(plot);

// panel letters and titles
text(70, 27, "(a)");  text(222, 29, "Monthly AT-Neu");
text(582, 27, "(b)"); text(732, 29, "Monthly BE-Bra");
text(70, 409, "(c)"); text(223, 410, "Monthly CH-Fru");
text(582, 409, "(d)"); text(732, 410, "Monthly ES-LgS");
text(333, 789, "(e)"); text(485, 792, "Monthly FI-Hyy");

// legends
legend(437, 6,   76, 59, LE_ROWS);
legend(421, 229, 90, 58, GPP_ROWS);
legend(948, 6,   70, 59, LE_ROWS);
legend(943, 222, 75, 58, GPP_ROWS);
legend(437, 387, 76, 59, LE_ROWS);
legend(435, 608, 78, 59, GPP_ROWS);
legend(938, 392, 76, 59, LE_ROWS);
legend(932, 627, 80, 59, GPP_ROWS);
legend(685, 769, 75, 59, LE_ROWS);
legend(692, 982, 74, 58, GPP_ROWS);

const red = document.createElement("div");
red.id = "redline";
document.body.appendChild(red);
</script>
</body>
</html>
